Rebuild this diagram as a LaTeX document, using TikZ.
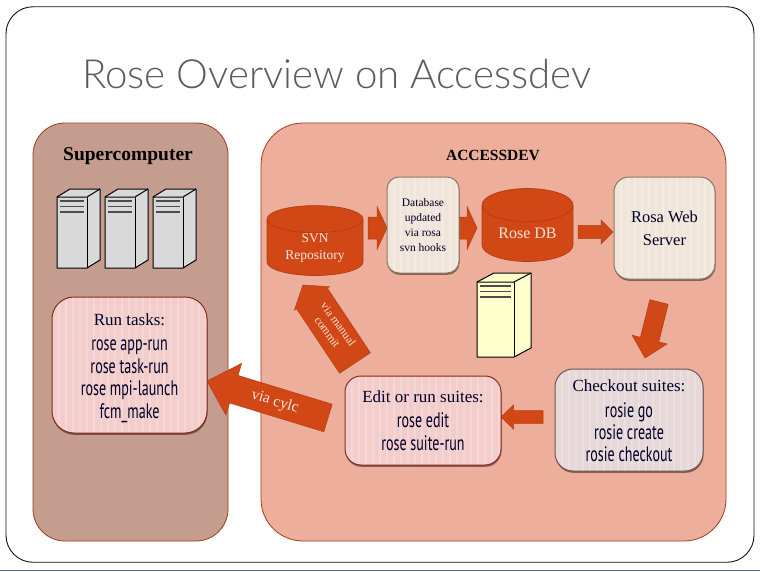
\documentclass[tikz,border=0pt]{standalone}
\usepackage{fontspec}
\usetikzlibrary{calc,shapes.geometric,shadows}
\setmainfont{Liberation Serif}
\newfontfamily\titlef{Lato Light}
\newfontfamily\narrowf[FakeStretch=0.67]{PT Sans}
\definecolor{frameblack}{HTML}{111111}
\definecolor{titlegrey}{HTML}{5E5B59}
\definecolor{superfill}{HTML}{C49D8E}
\definecolor{accessfill}{HTML}{EDAF9B}
\definecolor{panelline}{HTML}{9E3B1B}
\definecolor{rust}{HTML}{D14816}
\definecolor{rustdark}{HTML}{B23C12}
\definecolor{creamfill}{HTML}{F0E5DA}
\definecolor{creamline}{HTML}{8A7A62}
\definecolor{pinkfill}{HTML}{F2CDCB}
\definecolor{pinkline}{HTML}{8A2A1E}
\definecolor{mauvefill}{HTML}{E6D8D8}
\definecolor{mauveline}{HTML}{6E5450}
\definecolor{srvgrey}{HTML}{D9D9D9}
\definecolor{srvyellow}{HTML}{FFFFCC}
\definecolor{barblue}{HTML}{4A6D96}
\definecolor{labelwhite}{HTML}{F8E6DC}
\tikzset{
  panel/.style={draw=panelline,line width=0.8pt},
  stripebox/.style n args={2}{draw=#2,fill=#1,line width=1pt,inner sep=0pt,align=center,
    text=black!85!blue,
    font=\narrowf\fontsize{21}{22.4}\selectfont,
    drop shadow={shadow xshift=0.5pt,shadow yshift=-1.8pt,fill=black,opacity=.45},
    path picture={\foreach \i in {0,...,30}{
      \draw[white,opacity=.2,line width=2.5pt]
        ([xshift=\i*7pt]path picture bounding box.north west) --
        ([xshift=\i*7pt]path picture bounding box.south west);}}},
  cyl/.style={cylinder,shape border rotate=90,draw=rustdark,line width=0.7pt,fill=rust,
    text=labelwhite,inner sep=0pt,align=center},
  blockarrow/.style={draw=rustdark,line width=0.5pt,fill=rust},
  arrowlabel/.style={text=labelwhite,align=center,inner sep=0pt},
  srvline/.style={draw=black,line width=1pt,line join=round},
  ventbar/.style={draw=black!70,line width=1.8pt},
}
\newcommand{\headf}{\rmfamily\fontsize{17}{22.4}\selectfont}
\newcommand{\blockarr}[5]{%
  \coordinate (neck) at ($(#2)!#5pt!(#1)$);
  \draw[blockarrow] ($(#1)!#3pt!90:(#2)$) -- ($(neck)!#3pt!90:(#2)$) -- ($(neck)!#4pt!90:(#2)$)
    -- (#2) -- ($(neck)!#4pt!-90:(#2)$) -- ($(neck)!#3pt!-90:(#2)$) -- ($(#1)!#3pt!-90:(#2)$) -- cycle;}
\newcommand{\srvbox}[7]{%
  \fill[#7] (#1,#2) -- (#1+#5,#2-#6) -- (#1+#3+#5,#2-#6) -- (#1+#3+#5,#2+#4-#6) -- (#1+#3,#2+#4) -- (#1,#2+#4) -- cycle;
  \draw[srvline] (#1,#2) -- (#1+#5,#2-#6) -- (#1+#3+#5,#2-#6) -- (#1+#3+#5,#2+#4-#6) -- (#1+#3,#2+#4) -- (#1,#2+#4) -- cycle;
  \draw[srvline] (#1,#2) -- (#1+#3,#2) -- (#1+#3+#5,#2-#6);
  \draw[srvline] (#1+#3,#2) -- (#1+#3,#2+#4);
  \draw[ventbar] (#1+2.5,#2+4) -- (#1+#3-3.5,#2+4);
  \draw[ventbar] (#1+2.5,#2+9.5) -- (#1+#3-3.5,#2+9.5);
  \draw[ventbar] (#1+2.5,#2+15) -- (#1+#3-3.5,#2+15);}
\begin{document}
\begin{tikzpicture}[x=1pt,y=-1pt]
\useasboundingbox (0,0) rectangle (760,571);
\fill[white] (0,0) rectangle (760,571);
\fill[barblue] (0,569.5) rectangle (760,571);
\node[draw=frameblack,line width=0.9pt,rounded corners=27pt,minimum width=748pt,minimum height=555.5pt,inner sep=0pt] (frame) at (380,284.5) {};
\node[anchor=base west,inner sep=0pt,text=titlegrey,font=\titlef\fontsize{40.2}{42}\selectfont] (title) at (82,88) {Rose Overview on Accessdev};

\node[panel,fill=superfill,rounded corners=32pt,minimum width=195pt,minimum height=418pt,inner sep=0pt] (super) at (130.5,332) {};
\node[panel,fill=accessfill,rounded corners=42pt,minimum width=465pt,minimum height=418pt,inner sep=0pt] (access) at (493.5,332) {};
\node[font=\rmfamily\bfseries\fontsize{19.5}{20}\selectfont,inner sep=0pt] (superlabel) at (128,156) {Supercomputer};
\node[font=\rmfamily\bfseries\fontsize{15.5}{18}\selectfont,inner sep=0pt] (accesslabel) at (493,155) {ACCESSDEV};

\srvbox{57}{197}{30}{71}{13}{8}{srvgrey}
\srvbox{105}{197}{30}{71}{13}{8}{srvgrey}
\srvbox{153}{197}{30}{71}{13}{8}{srvgrey}
\srvbox{477}{282}{37}{75}{17}{9}{srvyellow}

\node[cyl,aspect=0.458,minimum width=96pt,minimum height=54pt,font=\fontsize{13.5}{17}\selectfont] (svn) at (315,247.5) {SVN\\Repository};
\node[cyl,aspect=0.571,minimum width=91pt,minimum height=73pt,font=\fontsize{16}{20}\selectfont] (rosedb) at (527.5,233.5) {Rose DB};

\coordinate (a1s) at (368,228); \coordinate (a1t) at (387,228);
\coordinate (a2s) at (459,228); \coordinate (a2t) at (477,228);
\coordinate (a3s) at (578,232); \coordinate (a3t) at (613,232);
\coordinate (a4s) at (659,302); \coordinate (a4t) at (645,358);
\coordinate (a5s) at (543,417); \coordinate (a5t) at (501,417);
\coordinate (a6s) at (328,418); \coordinate (a6t) at (207,381);
\coordinate (a7s) at (355,363); \coordinate (a7t) at (303,285);
\blockarr{a1s}{a1t}{11}{21.5}{10}
\blockarr{a2s}{a2t}{11}{21.5}{10}
\blockarr{a3s}{a3t}{6.7}{12}{12}
\blockarr{a4s}{a4t}{9.5}{18}{19}
\blockarr{a5s}{a5t}{6.3}{12}{12.5}
\blockarr{a6s}{a6t}{14.4}{27}{28}
\blockarr{a7s}{a7t}{18.5}{21}{16}

\node[arrowlabel,rotate=-17,font=\fontsize{15.5}{20}\selectfont] (cylclabel) at (275,402) {via cylc};
\node[arrowlabel,rotate=-54,font=\fontsize{11.5}{13.5}\selectfont] (commitlabel) at (333,328) {via manual\\commit};

\node[stripebox={creamfill}{creamline},rounded corners=12pt,minimum width=72pt,minimum height=96pt,font=\rmfamily\fontsize{11.5}{15}\selectfont] (hooks) at (423,225) {Database\\updated\\via rosa\\svn hooks};
\node[stripebox={creamfill}{creamline},rounded corners=15pt,minimum width=101pt,minimum height=102pt,font=\rmfamily\fontsize{16.5}{23}\selectfont] (rosa) at (664.5,228) {Rosa Web\\Server};
\node[stripebox={mauvefill}{mauveline},rounded corners=18pt,minimum width=148pt,minimum height=102pt] (checkout) at (629,420) {{\headf\rule{0pt}{14pt}Checkout suites:}\\[3pt]rosie go\\rosie create\\rosie checkout};
\node[stripebox={pinkfill}{pinkline},rounded corners=16pt,minimum width=156pt,minimum height=89pt] (edit) at (423,420.5) {{\headf Edit or run suites:}\\[3pt]rose edit\\rose suite-run};
\node[stripebox={pinkfill}{pinkline},rounded corners=22pt,minimum width=155pt,minimum height=136pt] (run) at (129.5,365) {{\headf\rule{0pt}{18pt}Run tasks:}\\[3pt]rose app-run\\rose task-run\\rose mpi-launch\\fcm\_make};
\end{tikzpicture}
\end{document}
